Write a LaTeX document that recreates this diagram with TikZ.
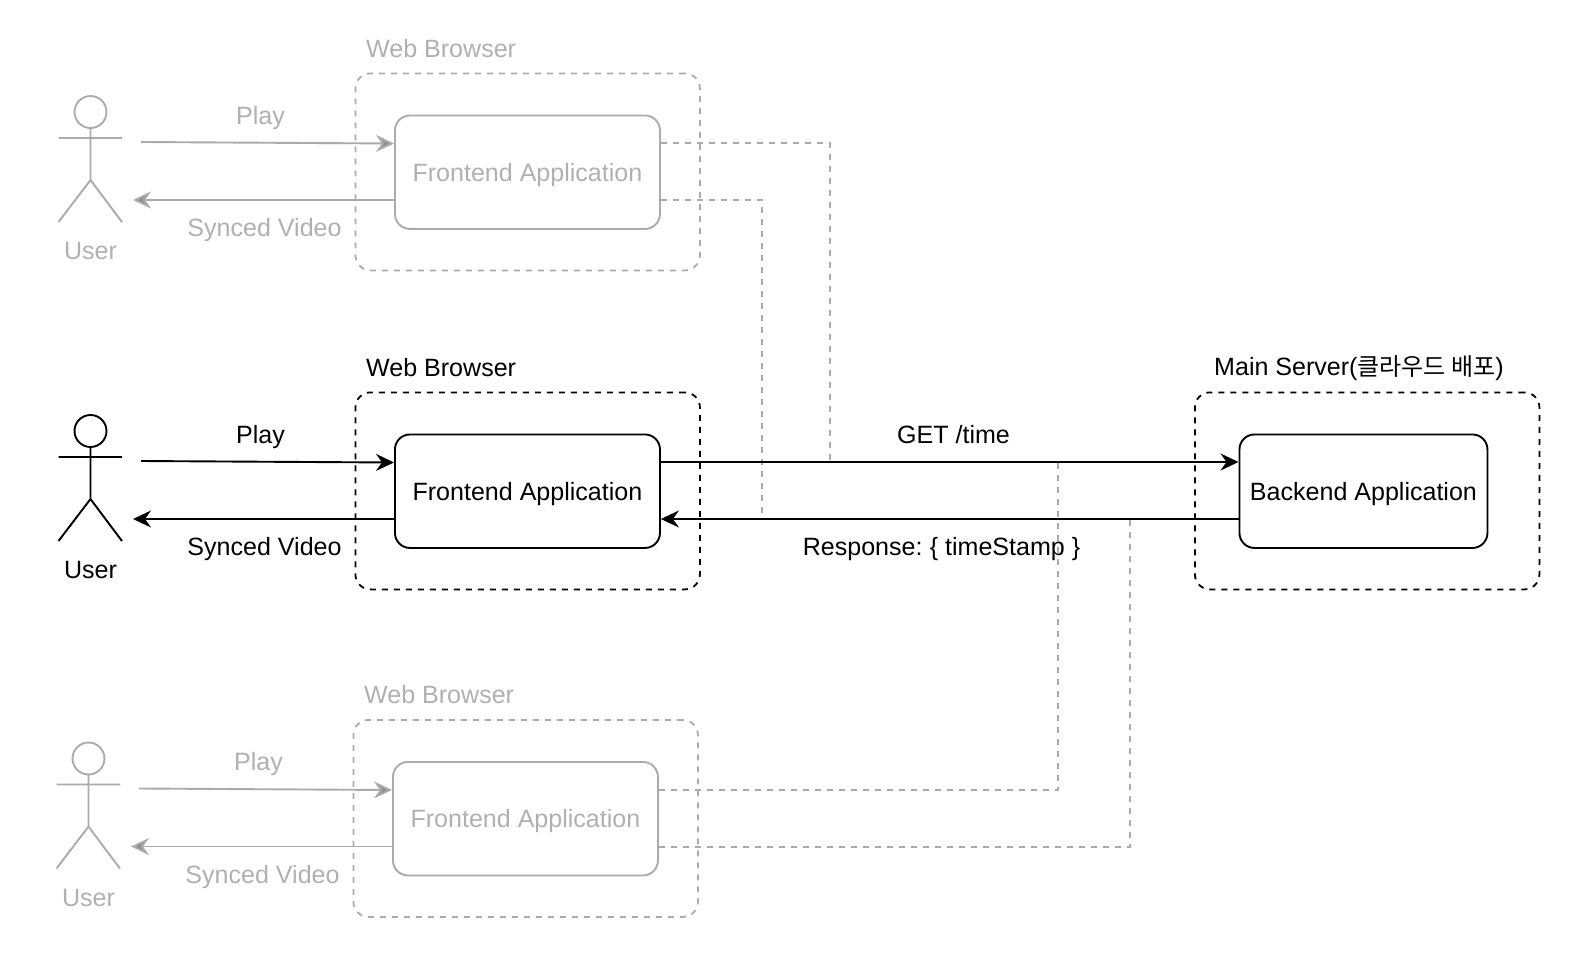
\documentclass[tikz,border=0pt]{standalone}
\usepackage{fontspec}
\setmainfont{Liberation Sans}
\newfontfamily\krfont{Noto Sans CJK KR}
\usetikzlibrary{arrows.meta}
\definecolor{fade}{HTML}{ABABAB}
\definecolor{fadetext}{HTML}{B0B0B0}
\definecolor{fadehead}{HTML}{8E8E8E}
\tikzset{
  x=1pt,y=-1pt,
  actorline/.style={line width=1.9pt,draw=#1},
  appbox/.style={draw=#1,line width=1.9pt,rounded corners=15pt,anchor=north west,inner sep=0pt},
  groupbox/.style={draw=#1,line width=1.8pt,rounded corners=15pt,anchor=north west,inner sep=0pt,dash pattern=on 6pt off 6pt},
  lbl/.style={text=#1,font=\fontsize{25.05}{29}\selectfont,inner sep=0pt},
  flow/.style={draw=#1,line width=1.9pt,-{Stealth[length=18pt,width=17pt,inset=6pt]}},
  fadeflow/.style={draw=fade,line width=1.9pt,-{Stealth[length=18pt,width=17pt,inset=6pt,color=fade,fill=fadehead]}},
  link/.style={draw=fade,line width=1.7pt,dash pattern=on 6.5pt off 5.5pt},
}
\newcommand{\browserrow}[6]{%
  % #1 prefix, #2 x offset, #3 y offset, #4 line colour, #5 text colour, #6 arrow style
  \begin{scope}[shift={(#2,#3)}]
    \coordinate (#1head) at (90.5,431);
    \draw[actorline=#4] (#1head) circle[radius=16];
    \coordinate (#1neck) at (90.5,447);
    \coordinate (#1hip) at (90.5,499);
    \coordinate (#1armL) at (58.5,457);
    \coordinate (#1armR) at (122,457);
    \coordinate (#1footL) at (58.5,541);
    \coordinate (#1footR) at (122,541);
    \draw[actorline=#4] (#1neck) -- (#1hip) (#1armL) -- (#1armR) (#1footL) -- (#1hip) -- (#1footR);
    \node[lbl=#5] (#1user) at (90.5,570) {User};
    \node[groupbox=#4,minimum width=344.5pt,minimum height=197pt] (#1group) at (354.5,391.5) {};
    \node[lbl=#5,anchor=west] (#1grouplabel) at (366,367.5) {Web Browser};
    \node[appbox=#4,minimum width=265pt,minimum height=113.5pt,lbl=#5] (#1app) at (394,433.5) {\raisebox{-9pt}[0pt][0pt]{Frontend Application}};
    \coordinate (#1playstart) at (141,461);
    \coordinate (#1syncend) at (133,519);
    \draw[#6] (#1playstart) -- (#1app.west |- 0,462.5);
    \draw[#6] (#1app.west |- 0,519) -- (#1syncend);
    \node[lbl=#5] (#1play) at (260.5,437) {Play};
    \node[lbl=#5] (#1sync) at (264.5,549.5) {Synced Video};
  \end{scope}
}
\begin{document}
\begin{tikzpicture}
\useasboundingbox (0,0) rectangle (1594,956);
\browserrow{t}{0}{-319}{fade}{fadetext}{fadeflow}
\browserrow{b}{-2}{327.5}{fade}{fadetext}{fadeflow}
\node[groupbox=black,minimum width=344.5pt,minimum height=197pt] (server) at (1194,391.5) {};
\node[appbox=black,minimum width=248pt,minimum height=113.5pt,lbl=black] (backend) at (1238.5,433.5) {\raisebox{-9pt}[0pt][0pt]{Backend Application}};
\node[lbl=black,anchor=west] (serverlabel) at (1214,368) {Main Server({\krfont\fontsize{24}{29}\selectfont 클라우드 배포})};
\coordinate (j1) at (830,462);
\coordinate (j2) at (762,519);
\coordinate (j3) at (1058,462);
\coordinate (j4) at (1130,519);
\draw[link] (tapp.east |- 0,143) -| (j1);
\draw[link] (tapp.east |- 0,200) -| (j2);
\draw[link] (bapp.east |- 0,790) -| (j3);
\draw[link] (bapp.east |- 0,847) -| (j4);
\browserrow{m}{0}{0}{black}{black}{flow=black}
\draw[flow=black] (mapp.east |- 0,462) -- (backend.west |- 0,462);
\draw[flow=black] (backend.west |- 0,519) -- (mapp.east |- 0,519);
\node[lbl=black] (get) at (953.5,434.5) {GET /time};
\node[lbl=black] (resp) at (941.5,549.5) {Response:\hspace{-2pt} \{ timeStamp \}};
\end{tikzpicture}
\end{document}
